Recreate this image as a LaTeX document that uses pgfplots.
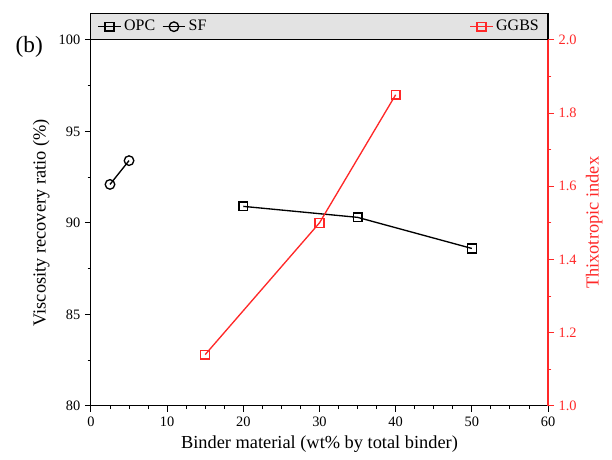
\documentclass[border=0pt]{standalone}
\usepackage{fontspec}
\setmainfont{Liberation Serif}
\usepackage{pgfplots}
\pgfplotsset{compat=1.18}
\definecolor{ggbsred}{RGB}{255,40,40}
\begin{document}
\begin{tikzpicture}
\begin{axis}[
 scale only axis, width=343.5pt, height=275pt,
 xmin=0, xmax=60, ymin=80, ymax=100,
 xtick={0,10,...,60}, minor x tick num=3,
 ytick={80,85,...,100}, minor y tick num=1,
 xtick pos=left, ytick pos=left,
 tick align=outside, major tick length=4.5pt, minor tick length=2.5pt,
 tick style={black, line width=0.7pt},
 axis line style={line width=0.8pt},
 ticklabel style={font=\fontsize{10.8}{12}\selectfont},
 /pgf/number format/assume math mode=true,
 xlabel={Binder material (wt\% by total binder)},
 ylabel={Viscosity recovery ratio (\%)},
 label style={font=\fontsize{13.8}{16}\selectfont},
 clip=false,
 legend style={at={(0.005,1.036)}, anchor=west, draw=none, fill=none, legend columns=-1, font=\fontsize{12}{14}\selectfont, /tikz/every even column/.append style={column sep=3pt}},
 legend image code/.code={\draw[mark repeat=2,mark phase=2] plot coordinates {(0cm,0cm)(0.3cm,0cm)(0.6cm,0cm)};},
]
\path (rel axis cs:-0.199,-0.147) rectangle (rel axis cs:1.140,1.109);
\draw[fill=gray!22, line width=0.8pt] (rel axis cs:0,1) rectangle (rel axis cs:1,1.071);
\node[font=\fontsize{17.5}{20}\selectfont] at (rel axis cs:-0.135,0.98) {(b)};
\addplot[black, line width=1pt, mark=square, mark size=3.3pt, mark options={fill=white, line width=1pt}] coordinates {(20,90.9) (35,90.3) (50,88.6)};
\addlegendentry{OPC}
\addplot[black, line width=1pt, mark=o, mark size=3.6pt, mark options={fill=white, line width=1pt}] coordinates {(2.5,92.1) (5,93.4)};
\addlegendentry{SF}
\end{axis}
\begin{axis}[
 scale only axis, width=343.5pt, height=275pt,
 xmin=0, xmax=60, ymin=1, ymax=2,
 axis x line=none, axis y line*=right,
 ytick={1,1.2,...,2.01}, minor y tick num=1,
 tick align=outside, major tick length=4.5pt, minor tick length=2.5pt,
 tick style={ggbsred, line width=0.7pt},
 axis line style={ggbsred, line width=0.8pt, -},
 yticklabel style={font=\fontsize{10.8}{12}\selectfont, text=ggbsred, /pgf/number format/.cd, fixed, fixed zerofill, precision=1},
 /pgf/number format/assume math mode=true,
 ylabel={Thixotropic index},
 ylabel style={font=\fontsize{13.8}{16}\selectfont, text=ggbsred},
 clip=false,
 legend style={at={(0.995,1.036)}, anchor=east, draw=none, fill=none, font=\fontsize{12}{14}\selectfont},
 legend image code/.code={\draw[mark repeat=2,mark phase=2] plot coordinates {(0cm,0cm)(0.3cm,0cm)(0.6cm,0cm)};},
]
\addplot[ggbsred, line width=1pt, mark=square, mark size=3.3pt, mark options={fill=white, line width=1pt}] coordinates {(15,1.14) (30,1.50) (40,1.85)};
\addlegendentry{GGBS}
\end{axis}
\end{tikzpicture}
\end{document}
